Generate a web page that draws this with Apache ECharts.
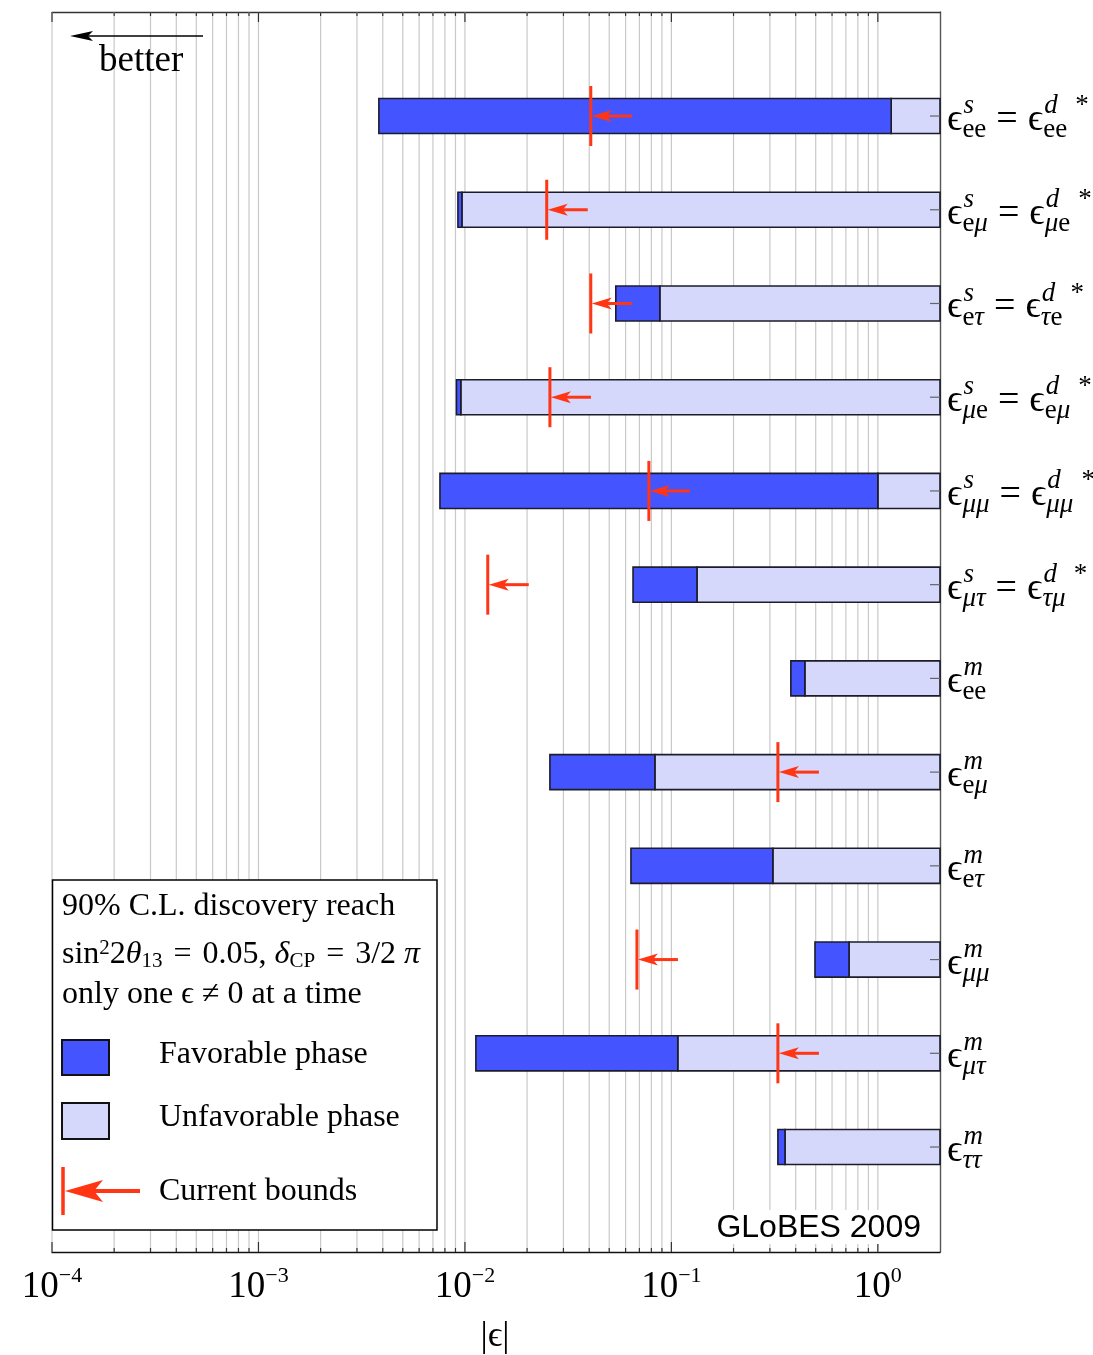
<!DOCTYPE html>
<html><head><meta charset="utf-8">
<script src="https://cdn.jsdelivr.net/npm/echarts@6/dist/echarts.min.js"></script>
<style>html,body{margin:0;padding:0;background:#fff}#c{width:1093px;height:1355px}</style>
</head><body><div id="c"></div>
<script>
// ---------------- data (rows listed top to bottom) ----------------
const labelKind = ['s','s','s','s','s','s','m','m','m','m','m','m'];
const labelSubL = ['ee','eμ','eτ','μe','μμ','μτ','ee','eμ','eτ','μμ','μτ','ττ'];
const labelSubR = ['ee','μe','τe','eμ','μμ','τμ',null,null,null,null,null,null];
const favLow    = [0.00383, 0.00925, 0.0538, 0.0091, 0.00757, 0.0652, 0.379, 0.0258, 0.0637, 0.496, 0.0113, 0.328];
const favHigh   = [1.16, 0.00967, 0.0879, 0.00955, 1.0, 0.133, 0.443, 0.0832, 0.310, 0.725, 0.1074, 0.355];
const unfavHigh = [2, 2, 2, 2, 2, 2, 2, 2, 2, 2, 2, 2];
const bounds    = [0.0407, 0.0249, 0.0407, 0.0258, 0.0778, 0.0129, null, 0.328, null, 0.0681, 0.328, null];
const majorTicks = [1e-4, 1e-3, 1e-2, 1e-1, 1];
const tickExp    = ['−4', '−3', '−2', '−1', '0'];
const minorMult  = [2, 3, 4, 5, 6, 7, 8, 9];

const X_MIN = 1e-4, X_MAX = 2, Y_MIN = -0.12, Y_MAX = 13.11;
const NROW = labelKind.length;

const SERIF = '"Liberation Serif", "DejaVu Serif", serif';
const SANS = '"Liberation Sans", Arial, sans-serif';
const DARK = '#4455ff', LIGHT = '#d5d7fb', RED = '#ff3514', EDGE = '#1c1c2a', GRIDC = '#c9c9c9';
const MAINF = 38, SCRF = 27, SUP_DY = -10, SUB_DY = 14, MAIN_DY = 4;

const ctx = document.createElement('canvas').getContext('2d');
function mw(t, size, italic, fam) { ctx.font = (italic ? 'italic ' : '') + size + 'px ' + (fam || SERIF); return ctx.measureText(t).width; }
const GREEK = /[α-ωϵ]/;
function richRun(str, size) {
  let text = '', w = 0;
  for (const ch of str) { const it = GREEK.test(ch); text += '{' + (it ? 'i' : 'u') + '|' + ch + '}'; w += mw(ch, size, it); }
  return { text, width: w };
}
const RICH_SCR = {
  u: { fontSize: SCRF, fontFamily: SERIF, fontStyle: 'normal', fill: '#000' },
  i: { fontSize: SCRF, fontFamily: SERIF, fontStyle: 'italic', fill: '#000' }
};
function txt(x, y, text, size, italic, align, fam) {
  const font = (italic ? 'italic ' : '') + size + 'px ' + (fam || SERIF);
  return { type: 'text', style: { x, y, text, font, fill: '#000', align: align || 'left', verticalAlign: 'middle', textAlign: align || 'left', textVerticalAlign: 'middle' } };
}

// ---------------- derived series data ----------------
const gridData = [];
majorTicks.forEach((m, k) => {
  gridData.push([m, 1]);
  if (k < majorTicks.length - 1) minorMult.forEach(f => gridData.push([m * f, 0]));
});
const tickLabelData = majorTicks.map((m, k) => [m, Y_MIN, k]);
const barData = favLow.map((v, i) => [v, NROW - i, favHigh[i], unfavHigh[i]]);
const boundData = bounds.map((b, i) => b == null ? null : [b, NROW - i]).filter(Boolean);
const labelData = labelKind.map((k, i) => [X_MAX, NROW - i, i]);

const chart = echarts.init(document.getElementById('c'), null, { renderer: 'canvas' });

const option = {
  animation: false,
  grid: { left: 52, right: 153, top: 12, bottom: 103 },
  xAxis: [
    { type: 'log', logBase: 10, min: X_MIN, max: X_MAX, position: 'bottom',
      axisLine: { show: true, onZero: false, lineStyle: { color: '#111', width: 1.4 } },
      axisTick: { show: false }, axisLabel: { show: false }, splitLine: { show: false } },
    { type: 'log', logBase: 10, min: X_MIN, max: X_MAX, position: 'top',
      axisLine: { show: true, onZero: false, lineStyle: { color: '#333', width: 1.4 } },
      axisTick: { show: false }, axisLabel: { show: false }, splitLine: { show: false } }
  ],
  yAxis: { type: 'value', min: Y_MIN, max: Y_MAX, position: 'right',
    axisLine: { show: true, onZero: false, lineStyle: { color: '#555', width: 1.4 } },
    axisTick: { show: false }, axisLabel: { show: false }, splitLine: { show: false } },
  series: [
    { // grid lines and frame ticks
      type: 'custom', z: 1, silent: true, data: gridData,
      renderItem(params, api) {
        const v = api.value(0), major = api.value(1) === 1;
        const t = api.coord([v, Y_MAX]), b = api.coord([v, Y_MIN]);
        const tl = major ? 10 : 4;
        return { type: 'group', children: [
          { type: 'line', shape: { x1: t[0], y1: t[1], x2: b[0], y2: b[1] }, style: { stroke: GRIDC, lineWidth: 1.2 } },
          { type: 'line', shape: { x1: t[0], y1: t[1], x2: t[0], y2: t[1] + tl }, style: { stroke: '#333', lineWidth: 1.2 } },
          { type: 'line', shape: { x1: b[0], y1: b[1], x2: b[0], y2: b[1] - tl }, style: { stroke: '#333', lineWidth: 1.2 } }
        ] };
      }
    },
    { // tick labels 10^k
      type: 'custom', z: 3, silent: true, data: tickLabelData,
      renderItem(params, api) {
        const p = api.coord([api.value(0), api.value(1)]);
        const e = tickExp[api.value(2)];
        const w10 = mw('10', 37), we = mw(e, 22);
        const s = p[0] - (w10 + we) / 2;
        return { type: 'group', children: [
          txt(s, p[1] + 35.5, '10', 37, false),
          txt(s + w10, p[1] + 24, e, 22, false)
        ] };
      }
    },
    { // bars
      type: 'custom', z: 2, silent: true, data: barData,
      renderItem(params, api) {
        const lo = api.value(0), y = api.value(1), hi = api.value(2), up = api.value(3);
        const a = api.coord([lo, y + 0.187]), b = api.coord([hi, y - 0.187]), c = api.coord([up, y - 0.187]);
        const h = b[1] - a[1];
        const mid = api.coord([up, y]);
        return { type: 'group', children: [
          { type: 'rect', shape: { x: b[0], y: a[1], width: c[0] - b[0], height: h }, style: { fill: LIGHT, stroke: EDGE, lineWidth: 1.6 } },
          { type: 'rect', shape: { x: a[0], y: a[1], width: b[0] - a[0], height: h }, style: { fill: DARK, stroke: EDGE, lineWidth: 1.6 } },
          { type: 'line', shape: { x1: mid[0] - 10, y1: mid[1], x2: mid[0], y2: mid[1] }, style: { stroke: '#666', lineWidth: 1.2 } }
        ] };
      }
    },
    { // current bounds
      type: 'custom', z: 4, silent: true, data: boundData,
      renderItem(params, api) {
        const p = api.coord([api.value(0), api.value(1)]);
        const x = p[0], y = p[1];
        return { type: 'group', children: [
          { type: 'line', shape: { x1: x, y1: y - 30, x2: x, y2: y + 30 }, style: { stroke: RED, lineWidth: 3 } },
          { type: 'line', shape: { x1: x + 15, y1: y, x2: x + 41, y2: y }, style: { stroke: RED, lineWidth: 3 } },
          { type: 'polygon', shape: { points: [[x + 1, y], [x + 21, y - 6], [x + 16, y], [x + 21, y + 6]] }, style: { fill: RED } }
        ] };
      }
    },
    { // row labels on the right
      type: 'custom', z: 4, silent: true, data: labelData,
      renderItem(params, api) {
        const i = api.value(2);
        const p = api.coord([api.value(0), api.value(1)]);
        const yc = p[1];
        const kids = [];
        const wEps = mw('ϵ', MAINF, false);
        function pair(x, sup, sub) {
          kids.push(txt(x + 1, yc + SUP_DY, sup, SCRF, true));
          const r = richRun(sub, SCRF);
          kids.push({ type: 'text', style: { x: x, y: yc + SUB_DY, text: r.text, rich: RICH_SCR, fill: '#000',
            font: SCRF + 'px ' + SERIF, align: 'left', verticalAlign: 'middle', textAlign: 'left', textVerticalAlign: 'middle' } });
          return Math.max(mw(sup, SCRF, true) + 1, r.width);
        }
        let x = p[0] + 7;
        kids.push(txt(x, yc + MAIN_DY, 'ϵ', MAINF, false));
        x += wEps;
        x += pair(x, labelKind[i], labelSubL[i]);
        if (labelSubR[i]) {
          x += 10;
          kids.push(txt(x, yc + MAIN_DY, '=', MAINF, false));
          x += mw('=', MAINF, false) + 10;
          kids.push(txt(x, yc + MAIN_DY, 'ϵ', MAINF, false));
          x += wEps;
          x += pair(x, 'd', labelSubR[i]);
          kids.push(txt(x + 8, yc + SUP_DY, '*', SCRF, false));
        }
        return { type: 'group', children: kids };
      }
    }
  ],
  graphic: { elements: [
    // "better" arrow
    { type: 'line', z: 100, shape: { x1: 88, y1: 36, x2: 203, y2: 36 }, style: { stroke: '#000', lineWidth: 1.6 } },
    { type: 'polygon', z: 100, shape: { points: [[70, 36], [93, 31], [88, 36], [93, 41]] }, style: { fill: '#000' } },
    Object.assign(txt(99, 61, 'better', 37, false), { z: 100 }),
    // legend box
    { type: 'rect', z: 100, shape: { x: 52.5, y: 880, width: 384.5, height: 350 }, style: { fill: '#fff', stroke: '#000', lineWidth: 1.5 } },
    Object.assign(txt(62, 906.5, '90% C.L. discovery reach', 32, false), { z: 101 }),
    { type: 'text', z: 101, style: { x: 62, y: 954.5,
      text: '{m|sin}{sp|2}{m|2}{i|θ}{sb|13}{g| }{m|=}{g| }{m|0.05, }{i|δ}{sb|CP}{g| }{m|=}{g| }{m|3/2 }{i|π}',
      font: '32px ' + SERIF, fill: '#000', align: 'left', verticalAlign: 'middle', textAlign: 'left', textVerticalAlign: 'middle',
      rich: {
        m: { fontSize: 32, lineHeight: 34, fontFamily: SERIF, fill: '#000' },
        g: { fontSize: 32, lineHeight: 34, fontFamily: SERIF, width: 11, fill: '#000' },
        i: { fontSize: 32, lineHeight: 34, fontFamily: SERIF, fontStyle: 'italic', fill: '#000' },
        sp: { fontSize: 21, lineHeight: 25, fontFamily: SERIF, verticalAlign: 'top', fill: '#000' },
        sb: { fontSize: 21, lineHeight: 21, fontFamily: SERIF, verticalAlign: 'bottom', fill: '#000' }
      } } },
    Object.assign(txt(62, 994.5, 'only one ϵ ≠ 0 at a time', 32, false), { z: 101 }),
    { type: 'rect', z: 101, shape: { x: 62, y: 1040, width: 47, height: 35 }, style: { fill: DARK, stroke: '#111', lineWidth: 2 } },
    Object.assign(txt(159, 1055, 'Favorable phase', 32, false), { z: 101 }),
    { type: 'rect', z: 101, shape: { x: 62, y: 1103, width: 47, height: 36 }, style: { fill: LIGHT, stroke: '#111', lineWidth: 2 } },
    Object.assign(txt(159, 1118, 'Unfavorable phase', 32, false), { z: 101 }),
    { type: 'line', z: 101, shape: { x1: 63, y1: 1167, x2: 63, y2: 1215 }, style: { stroke: RED, lineWidth: 3.5 } },
    { type: 'line', z: 101, shape: { x1: 94, y1: 1191, x2: 140, y2: 1191 }, style: { stroke: RED, lineWidth: 4 } },
    { type: 'polygon', z: 101, shape: { points: [[65, 1191], [103, 1180], [94, 1191], [103, 1202]] }, style: { fill: RED } },
    Object.assign(txt(159, 1192, 'Current bounds', 32, false), { z: 101 }),
    // GLoBES stamp
    { type: 'rect', z: 100, shape: { x: 711, y: 1210, width: 214, height: 34 }, style: { fill: '#fff' } },
    Object.assign(txt(921, 1228, 'GLoBES 2009', 32, false, 'right', SANS), { z: 101 }),
    // axis title
    Object.assign(txt(495, 1337, '|ϵ|', 36, false, 'center'), { z: 101 })
  ] }
};
chart.setOption(option);
</script>
</body></html>
